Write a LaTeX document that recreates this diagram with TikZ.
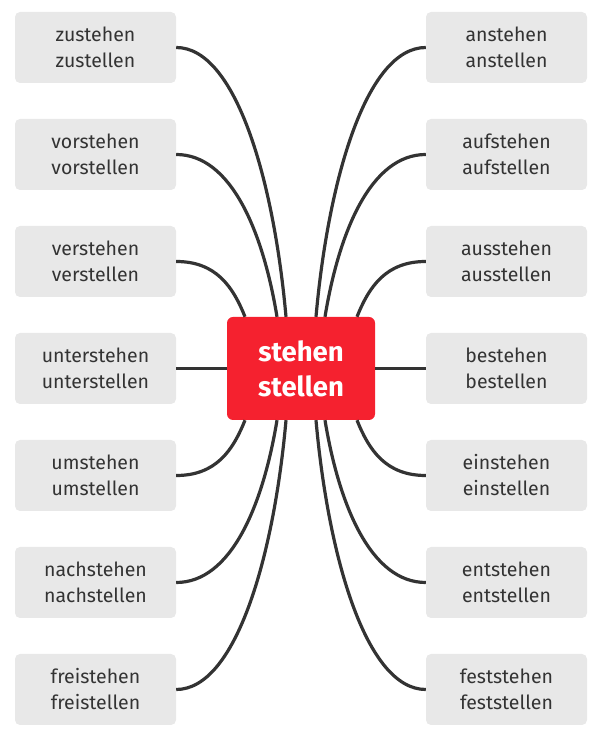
\documentclass[tikz,border=0pt]{standalone}
\usepackage{fontspec}
\setmainfont{Fira Sans}
\usetikzlibrary{calc}
\definecolor{boxgray}{HTML}{E8E8E8}
\definecolor{txt}{HTML}{333333}
\definecolor{hubred}{HTML}{F5212F}
\begin{document}
\begin{tikzpicture}[x=1pt,y=1pt,
  leaf/.style={fill=boxgray,rounded corners=5pt,minimum width=161pt,minimum height=71pt,inner sep=0pt,
    align=center,text=txt,font=\fontsize{19.5}{26}\selectfont},
  hub/.style={fill=hubred,rounded corners=6pt,minimum width=148pt,minimum height=103pt,inner sep=0pt,
    align=center,text=white,font=\fontsize{27.5}{35}\selectfont\bfseries},
  link/.style={draw=txt,line width=3.2pt}]
\useasboundingbox (0,0) rectangle (605,740);
\node[hub] (c) at (301,371.5) {stehen\\stellen};
\node[leaf] (L1) at (95.5,692.5) {zustehen\\zustellen};
\node[leaf] (L2) at (95.5,585.5) {vorstehen\\vorstellen};
\node[leaf] (L3) at (95.5,478.5) {verstehen\\verstellen};
\node[leaf] (L4) at (95.5,371.5) {unterstehen\\unterstellen};
\node[leaf] (L5) at (95.5,264.5) {umstehen\\umstellen};
\node[leaf] (L6) at (95.5,157.5) {nachstehen\\nachstellen};
\node[leaf] (L7) at (95.5,50.5) {freistehen\\freistellen};
\node[leaf] (R1) at (506.5,692.5) {anstehen\\anstellen};
\node[leaf] (R2) at (506.5,585.5) {aufstehen\\aufstellen};
\node[leaf] (R3) at (506.5,478.5) {ausstehen\\ausstellen};
\node[leaf] (R4) at (506.5,371.5) {bestehen\\bestellen};
\node[leaf] (R5) at (506.5,264.5) {einstehen\\einstellen};
\node[leaf] (R6) at (506.5,157.5) {entstehen\\entstellen};
\node[leaf] (R7) at (506.5,50.5) {feststehen\\feststellen};
% left side
\draw[link] (L1.east) .. controls +(60,0) and +(-12,135) .. ([xshift=-15pt]c.north);
\draw[link] (L2.east) .. controls +(55,0) and +(-14,85) .. ([xshift=-24pt]c.north);
\draw[link] (L3.east) .. controls +(40,0) and +(-12,30) .. ([xshift=-56pt]c.north);
\draw[link] (L4.east) -- (c.west);
\draw[link] (L5.east) .. controls +(40,0) and +(-12,-30) .. ([xshift=-56pt]c.south);
\draw[link] (L6.east) .. controls +(55,0) and +(-14,-85) .. ([xshift=-24pt]c.south);
\draw[link] (L7.east) .. controls +(60,0) and +(-12,-135) .. ([xshift=-15pt]c.south);
% right side
\draw[link] (R1.west) .. controls +(-60,0) and +(12,135) .. ([xshift=15pt]c.north);
\draw[link] (R2.west) .. controls +(-55,0) and +(14,85) .. ([xshift=24pt]c.north);
\draw[link] (R3.west) .. controls +(-40,0) and +(12,30) .. ([xshift=56pt]c.north);
\draw[link] (R4.west) -- (c.east);
\draw[link] (R5.west) .. controls +(-40,0) and +(12,-30) .. ([xshift=56pt]c.south);
\draw[link] (R6.west) .. controls +(-55,0) and +(14,-85) .. ([xshift=24pt]c.south);
\draw[link] (R7.west) .. controls +(-60,0) and +(12,-135) .. ([xshift=15pt]c.south);
\end{tikzpicture}
\end{document}
